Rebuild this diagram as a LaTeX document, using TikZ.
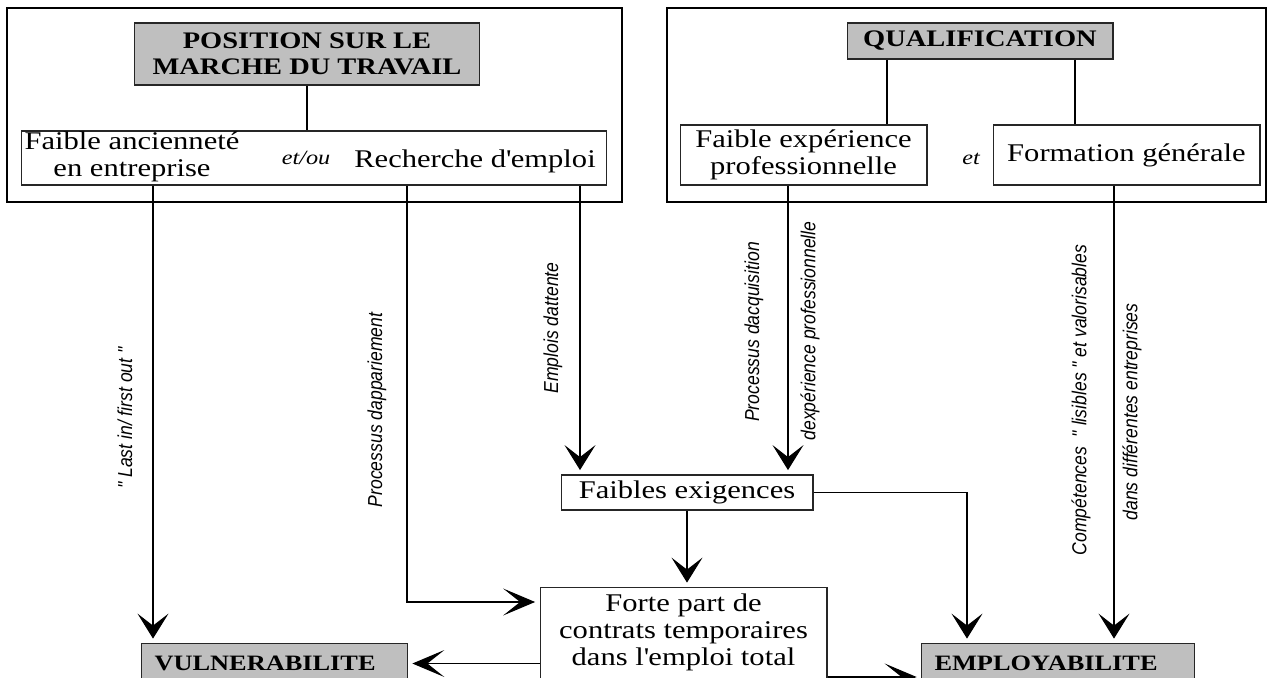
\documentclass[tikz,border=0pt]{standalone}
\usepackage{fontspec}
\setmainfont{Liberation Serif}[FakeStretch=1.2]
\newfontfamily\narrowsans{Liberation Sans}[FakeStretch=0.87]
\usepackage{tikz}
\usetikzlibrary{arrows.meta, calc, positioning}

\tikzset{
  box/.style={draw=black!85, line width=0.6pt, fill=white, inner sep=0pt, align=center,
    font=\fontsize{14.5}{15.5}\selectfont},
  headbox/.style={box, fill=black!25, font=\bfseries\fontsize{13.5}{15}\selectfont},
  resultbox/.style={headbox, align=left, inner xsep=0.26cm, minimum height=0.8cm,
    anchor=north west, font=\bfseries\fontsize{12.5}{14}\selectfont},
  frame/.style={draw, line width=1.1pt},
  link/.style={draw, line width=0.6pt},
  flow/.style={link, shorten >=2.5pt, -{Stealth[length=0.5cm, width=0.62cm, inset=0.24cm]}},
  hflow/.style={link, shorten >=2.5pt, -{Stealth[length=0.64cm, width=0.54cm, inset=0.34cm]}},
  vlab/.style={rotate=90, inner sep=0pt, font=\narrowsans\itshape\fontsize{11.5}{13}\selectfont},
  conj/.style={inner sep=0pt, font=\itshape\fontsize{11.5}{13}\selectfont},
  plain/.style={inner sep=0pt, align=center, font=\fontsize{14.5}{15.5}\selectfont},
}

\begin{document}
\begin{tikzpicture}[x=0.02cm, y=-0.02cm]
                        \useasboundingbox (0, 0) rectangle (1271, 678);
                        \clip (0, 0) rectangle (1271, 678);
                        \fill[white] (0, 0) rectangle (1271, 678);
                        \draw[frame] (7, 8) rectangle (622, 202);
                        \draw[frame] (667, 8) rectangle (1266, 202);
                        \node[headbox, minimum width=6.92cm, minimum height=1.24cm] (pos) at (307, 54) {POSITION SUR LE\\MARCHE DU TRAVAIL};
                        \node[box, minimum width=11.72cm, minimum height=1.08cm] (mkt) at (314, 158) {};
                        \node[plain] (anc) at (132, 157) {Faible ancienneté\\en entreprise};
                        \node[conj] (etou) at (306, 158) {et/ou};
                        \node[plain] (rech) at (475, 161) {Recherche d\textquotesingle emploi};
                        \node[headbox, minimum width=5.32cm, minimum height=0.72cm] (qual) at (980, 41) {QUALIFICATION};
                        \node[box, minimum width=4.94cm, minimum height=1.2cm] (fexp) at (803.5, 155) {Faible expérience\\professionnelle};
                        \node[conj] (et) at (971, 159) {et};
                        \node[box, minimum width=5.34cm, minimum height=1.2cm] (fgen) at (1126.5, 155) {Formation générale};
                        \node[box, minimum width=5.04cm, minimum height=0.7cm] (exig) at (687, 492.5) {Faibles exigences};
                        \node[box, minimum width=5.74cm, inner ysep=0.12cm, anchor=north] (forte) at (683.5, 587) {Forte part de\\contrats temporaires\\dans l\textquotesingle emploi total\\\strut};
                        \node[resultbox, text width=4.8cm] (vul) at (141, 643) {VULNERABILITE};
                        \node[resultbox, text width=4.94cm] (emp) at (921, 643) {EMPLOYABILITE};
                        \node[vlab] (lifo) at (125, 418) {" Last in/ first out "};
                        \node[vlab] (appar) at (377, 410) {Processus dappariement};
                        \node[vlab] (attente) at (553, 328) {Emplois dattente};
                        \node[vlab] (acq) at (754, 332) {Processus dacquisition};
                        \node[vlab] (expro) at (810, 331) {dexpérience professionnelle};
                        \node[vlab] (lisib) at (1081, 400) {Compétences~~" lisibles " et valorisables};
                        \node[vlab] (entrep) at (1132, 412) {dans différentes entreprises};
                        \draw[link]
                        (pos.south) -- (pos.south |- mkt.north)
                        (887, 0 |- qual.south) -- (887, 0 |- fexp.north)
                        (1075, 0 |- qual.south) -- (1075, 0 |- fgen.north);
                        \draw[flow] (153, 0 |- mkt.south) -- (153, 0 |- vul.north);
                        \draw[hflow] (407, 0 |- mkt.south) |- ($(forte.north west)+(0, 15)$);
                        \draw[flow] (580, 0 |- mkt.south) -- (580, 0 |- exig.north);
                        \draw[flow] (788, 0 |- fexp.south) -- (788, 0 |- exig.north);
                        \draw[flow] (1114, 0 |- fgen.south) -- (1114, 0 |- emp.north);
                        \draw[flow] (exig.east) -| (967, 0 |- emp.north);
                        \draw[flow] (exig.south) -- (exig.south |- forte.north);
                        \draw[hflow] (forte.west |- vul.east) -- (vul.east);
                        \draw[hflow] (forte.east |- 0, 677) -- (emp.west |- 0, 677);
                    \end{tikzpicture}
\end{document}
